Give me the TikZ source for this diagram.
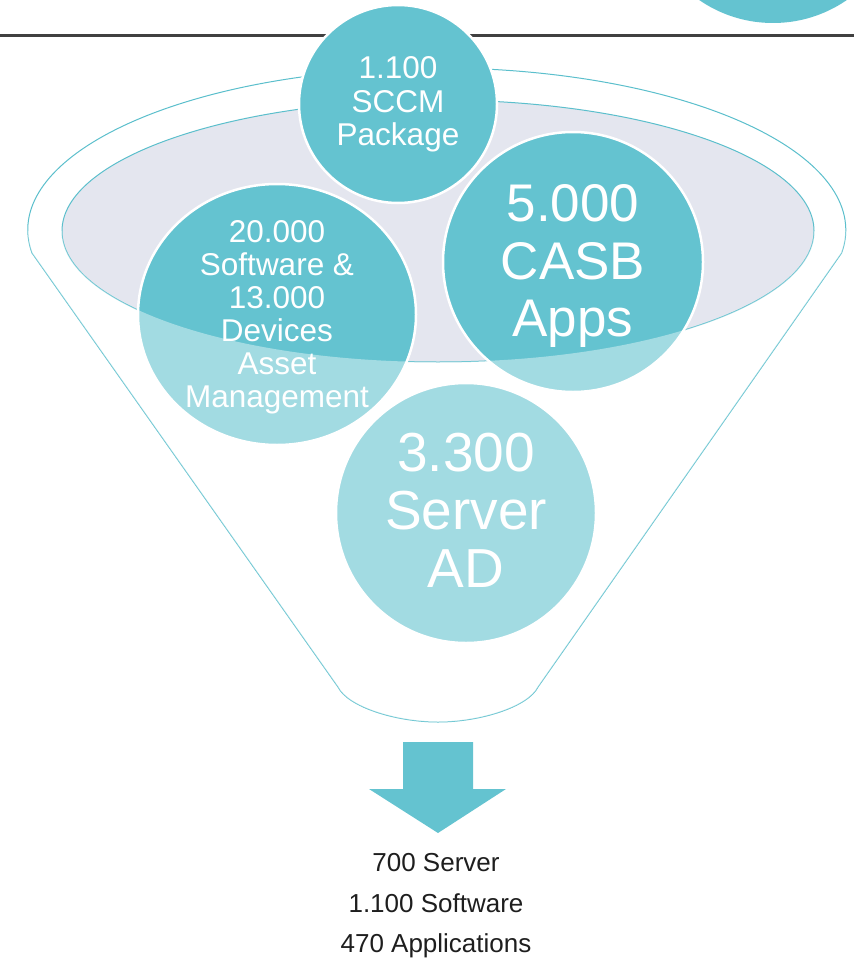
\documentclass[tikz,border=0pt]{standalone}
\usepackage{fontspec}
\setmainfont{Liberation Sans}
\usetikzlibrary{shapes.geometric}
\definecolor{teal1}{HTML}{64C3D0}
\definecolor{rimc}{HTML}{5BBFCC}
\definecolor{lav}{HTML}{E4E6EF}
\definecolor{rulec}{HTML}{404040}
\definecolor{ink}{HTML}{1E1E1E}
\tikzset{
  bubble/.style={circle, fill=teal1, draw=white, line width=2.5pt, inner sep=0pt},
  bubtext/.style={text=white, align=center, inner sep=0pt},
  outtext/.style={text=ink, font=\fontsize{26}{30}\selectfont, inner sep=0pt},
  rimline/.style={draw=rimc, line width=1pt}
}
\begin{document}
\begin{tikzpicture}[x=1pt,y=-1pt]
\clip (0,0) rectangle (854,958);
% top rule
\draw[rulec, line width=3pt] (0,36) -- (854,36);
% partial circle top right
\node[bubble, draw=none, minimum size=260pt] (corner) at (773,-107) {};
% funnel body
\path[rimline, fill=white] (32,253) arc[start angle=171.8, end angle=368.2, x radius=409, y radius=162]
  -- (538,687) .. controls (528,707) and (480,722) .. (438,722)
  .. controls (396,722) and (348,707) .. (338,687) -- cycle;
% inner ellipse
\path[rimline, fill=lav] (438,231) ellipse [x radius=376, y radius=131];
% bubbles
\node[bubble, minimum size=198pt] (sccm) at (398,104) {};
\node[bubble, ellipse, minimum width=278pt, minimum height=261pt] (asset) at (277,314.5) {};
\node[bubble, minimum size=260pt] (casb) at (573,262) {};
\node[bubble, minimum size=260pt] (server) at (466,513) {};
% front overlay of the funnel
\begin{scope}
\clip (0,231) rectangle (854,958);
\fill[white, fill opacity=0.4, even odd rule] (32,253) arc[start angle=171.8, end angle=368.2, x radius=409, y radius=162]
  -- (538,687) .. controls (528,707) and (480,722) .. (438,722)
  .. controls (396,722) and (348,707) .. (338,687) -- cycle
  (438,231) ellipse [x radius=376, y radius=131];
\end{scope}
% bubble texts
\node[bubtext, font=\fontsize{31.5}{33.5}\selectfont] (sccmt) at (398,104.6) {1.100\\SCCM\\Package};
\node[bubtext, font=\fontsize{31.5}{33}\selectfont] (assett) at (277,317.6) {20.000\\Software \&\\13.000\\Devices\\Asset\\Management};
\node[bubtext, font=\fontsize{53}{57.5}\selectfont] (casbt) at (573,266.4) {5.000\\CASB\\Apps};
\node[bubtext, font=\fontsize{55}{58}\selectfont] (servert) at (466,510.6) {3.300\\Server\\AD};
% arrow
\fill[teal1] (403,742) -- (473,742) -- (473,789) -- (506,789) -- (438,833) -- (369,789) -- (403,789) -- cycle;
% result text
\node[outtext, anchor=base] (r1) at (436,871) {700 Server};
\node[outtext, anchor=base] (r2) at (436,912) {1.100 Software};
\node[outtext, anchor=base] (r3) at (436,952) {470 Applications};
\end{tikzpicture}
\end{document}
